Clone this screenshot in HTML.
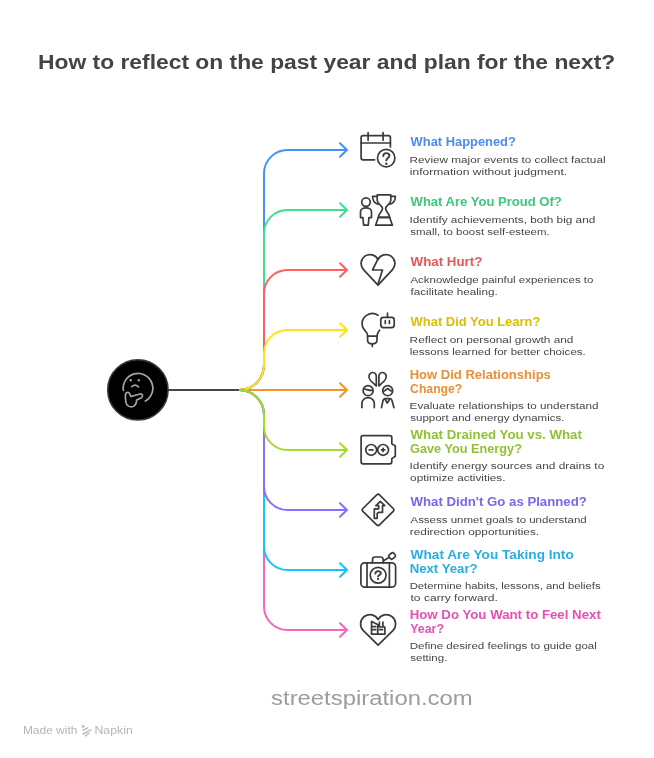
<!DOCTYPE html>
<html><head><meta charset="utf-8"><title>How to reflect on the past year and plan for the next?</title>
<style>
html,body{margin:0;padding:0;background:#fff;}
body{width:654px;height:758px;overflow:hidden;position:relative;font-family:"Liberation Sans", sans-serif;}
svg{position:absolute;left:0;top:0;will-change:transform;}
text{font-family:"Liberation Sans", sans-serif;}
</style></head><body>
<svg width="654" height="758" viewBox="0 0 654 758">
<g fill="none" stroke-width="2" stroke-linecap="round" stroke-linejoin="round">
<path d="M239 390 H347 M340 383.2 L347 390 L340 396.8" stroke="#F9922A"/>
<path d="M239 390 C252.8 390 264 378.8 264 365 V173.5 C264 160.5 274.5 150 287.5 150 H347 M340 143.2 L347 150 L340 156.8" stroke="#4690FA"/>
<path d="M239 390 C252.8 390 264 378.8 264 365 V233.5 C264 220.5 274.5 210 287.5 210 H347 M340 203.2 L347 210 L340 216.8" stroke="#40DE8E"/>
<path d="M239 390 C252.8 390 264 378.8 264 365 V293.5 C264 280.5 274.5 270 287.5 270 H347 M340 263.2 L347 270 L340 276.8" stroke="#FF5F5F"/>
<path d="M239 390 C252.8 390 264 378.8 264 365 V353.5 C264 340.5 274.5 330 287.5 330 H347 M340 323.2 L347 330 L340 336.8" stroke="#FFE31A"/>
<path d="M239 390 C252.8 390 264 401.2 264 415 V606.5 C264 619.5 274.5 630 287.5 630 H347 M340 623.2 L347 630 L340 636.8" stroke="#F765BF"/>
<path d="M239 390 C252.8 390 264 401.2 264 415 V546.5 C264 559.5 274.5 570 287.5 570 H347 M340 563.2 L347 570 L340 576.8" stroke="#12C4FF"/>
<path d="M239 390 C252.8 390 264 401.2 264 415 V486.5 C264 499.5 274.5 510 287.5 510 H347 M340 503.2 L347 510 L340 516.8" stroke="#8A6DFF"/>
<path d="M239 390 C252.8 390 264 401.2 264 415 V426.5 C264 439.5 274.5 450 287.5 450 H347 M340 443.2 L347 450 L340 456.8" stroke="#A2DE28"/>
</g>
<line x1="168" y1="390" x2="239" y2="390" stroke="#474747" stroke-width="2"/>
<circle cx="137.9" cy="389.9" r="30.2" fill="#000" stroke="#3a3a3a" stroke-width="1.5"/>
<g fill="none" stroke="#a5a5a5" stroke-width="1.7" stroke-linecap="round" stroke-linejoin="round">
<path d="M123.4 390.4 A14.8 14.8 0 1 1 145.3 401.1"/>
<path d="M131.8 386.6 Q135 383.6 138.4 386.8"/>
<path d="M127 392.5 C125.4 393 125.2 394.6 125.4 397 L125.8 402 C126.3 406 130 407.5 133 406.5 C135.5 405.6 136.5 403 136.6 400 L141 398 C143.5 396.8 142.8 393.3 140 394 L131 396.5 L129.5 393.6 C129 392.3 128 392.2 127 392.5 Z"/>
</g>
<g fill="#a0a0a0"><circle cx="130.8" cy="380.2" r="1.2"/><circle cx="138.8" cy="380.2" r="1.2"/></g>
<g fill="none" stroke="#3a3a3a" stroke-width="1.7" stroke-linecap="round" stroke-linejoin="round">
<path d="M374.6 159.8 H363.1 a2 2 0 0 1 -2 -2 V137.7 a2 2 0 0 1 2 -2 H388.4 a2 2 0 0 1 2 2 V146.9"/>
<path d="M361.1 143 H390.4 M368.1 132.5 V140.3 M383.1 132.5 V140.3"/>
<circle cx="386.2" cy="158.1" r="8.7"/>
<path d="M383.3 156 C383.3 152.2 389.4 152.2 389.4 155.8 C389.4 157.9 386.3 158 386.3 160.4" stroke-width="1.9"/>
<circle cx="386.3" cy="163.7" r="1.2" fill="#3a3a3a" stroke="none"/>
<circle cx="366" cy="202.1" r="4.3"/>
<path d="M362.9 217.6 H360.5 V211.8 A5.5 4 0 0 1 371.5 211.8 V217.6 H368.9 L368.3 225.2 H363.6 Z"/>
<path d="M377.2 194.9 H390.8 V200.5 C390.5 204.2 385.6 205.5 385.6 208.6 C385.6 211.6 389.3 213 389.6 217.3 H378.4 C378.7 213 382.5 211.6 382.5 208.6 C382.5 205.5 377.5 204.2 377.2 200.5 Z"/>
<path d="M377.2 196.4 H372.6 C372.6 200.3 374.2 202.9 377.9 204.3 M390.8 196.4 H395.4 C395.4 200.3 393.8 202.9 390.1 204.3"/>
<path d="M378.4 217.3 H389.6 L392.4 225.2 H375.6 Z"/>
<path d="M378.00 285.20 L363.48 269.55 A8.9 8.9 0 1 1 378.00 259.60 A8.9 8.9 0 1 1 392.52 269.55 Z"/>
<path d="M377.9 259.2 L372.5 270 H382.5 L378 284"/>
<path d="M378.1 315.2 A10.3 10.3 0 0 0 362.4 326.2 C362.9 328.5 365.5 331.2 367 333.3 C367.4 334 367.6 335 367.6 336.2 V340.5 Q367.6 343.8 372.3 343.8 Q377 343.8 377 340.5 V336.2 C377 334 378 332 379.5 330.2"/>
<path d="M367.6 336.2 H377 M372.3 343.8 V346.5"/>
<rect x="380.8" y="317.3" width="13.4" height="10.3" rx="2.5"/>
<path d="M387.5 313.2 V317.3 M385.3 320.7 V323.5 M389.4 320.7 V323.5"/>
<path d="M376.2 385.9 L370.5 380.5 C368 378 368.5 373 372.5 372.5 C376 372.3 376.3 375.5 376.3 377 V385.9"/>
<path d="M379 385.9 L384.7 380.5 C387.2 378 386.7 373 382.7 372.5 C379.2 372.3 378.9 375.5 378.9 377 V385.9"/>
<circle cx="368.1" cy="390.7" r="5"/>
<path d="M364.3 389 C366.5 389.3 369.5 390.8 372 390.4"/>
<path d="M361.9 407.6 V403.5 A6.2 5.8 0 0 1 374.3 403.5 V407.6"/>
<circle cx="387.7" cy="390.7" r="5"/>
<path d="M383.8 391 C385.5 391.2 386.5 388.6 387.7 388.6 C388.9 388.6 389.9 391.2 391.6 391"/>
<path d="M381.5 407.6 L383 400.5 Q383.5 398.6 385 398.6 H390 Q391.5 398.6 392 400.5 L393.9 407.6 M384.6 398.6 L387.3 403 L390.1 398.6"/>
<path d="M361.1 437.7 a2 2 0 0 1 2 -2 H389.8 a2 2 0 0 1 2 2 V443.8 L395.3 445.9 V456.2 L391.8 458.6 V461.8 a2 2 0 0 1 -2 2 H363.1 a2 2 0 0 1 -2 -2 Z"/>
<circle cx="371.2" cy="449.9" r="5.4"/><circle cx="383.1" cy="449.9" r="5.4"/>
<path d="M369.3 449.9 H372.9 M383.1 448.3 V451.5 M381.5 449.9 H384.7"/>
<path d="M376.7 494.9 a2 2 0 0 1 2.8 0 L393.2 508.5 a2 2 0 0 1 0 2.8 L379.5 524.8 a2 2 0 0 1 -2.8 0 L362.9 511.3 a2 2 0 0 1 0 -2.8 Z"/>
<path d="M374.3 518.3 H377.2 V513.5 L378.7 512.4 H382.5 V505.6 H384.7 L380.3 501.4 L375.9 505.6 H378.7 V508.8 H374.3 Z"/>
<rect x="360.9" y="562.8" width="34.7" height="24.4" rx="4"/>
<path d="M367 562.8 V587.2 M389.4 562.8 V587.2"/>
<path d="M372.5 562.8 V559.5 a2.5 2.5 0 0 1 2.5 -2.5 H380.7 a2.5 2.5 0 0 1 2.5 2.5 V562.8"/>
<path d="M383.6 560.7 L388.5 557.7"/>
<rect x="-3" y="-2.6" width="6" height="5.2" rx="1.6" transform="translate(392.1 555.9) rotate(-38)"/>
<circle cx="378.1" cy="575.2" r="7.9"/>
<path d="M375.4 573.6 C375.4 570.3 380.9 570.3 380.9 573.4 C380.9 575 378.1 575 378.1 576.5" stroke-width="1.9"/>
<circle cx="378.1" cy="579.1" r="1.15" fill="#3a3a3a" stroke="none"/>
<path d="M378.10 645.20 L363.36 630.59 A9.3 9.3 0 1 1 378.10 619.60 A9.3 9.3 0 1 1 392.84 630.59 Z"/>
<path d="M371.5 621.4 L377.7 624.5 V634.2 M371.5 621.4 V634.2 H384.9 V627 H379.4 V622 M382.9 622 V627 M372.3 626.6 H375.6 M372.3 629.7 H375.6 M379.6 629.7 H382.5"/>
</g>
<text x="38.02" y="68.7" font-size="20" font-weight="bold" fill="#444444" textLength="577.27" lengthAdjust="spacingAndGlyphs">How to reflect on the past year and plan for the next?</text>
<text x="410.60" y="145.9" font-size="12.8" font-weight="bold" fill="#4D8CEE" textLength="105.24" lengthAdjust="spacingAndGlyphs">What Happened?</text>
<text x="409.63" y="162.6" font-size="9.7" font-weight="normal" fill="#454545" textLength="195.88" lengthAdjust="spacingAndGlyphs">Review major events to collect factual</text>
<text x="409.86" y="174.6" font-size="9.7" font-weight="normal" fill="#454545" textLength="157.27" lengthAdjust="spacingAndGlyphs">information without judgment.</text>
<text x="410.60" y="205.9" font-size="12.8" font-weight="bold" fill="#3CC97C" textLength="151.20" lengthAdjust="spacingAndGlyphs">What Are You Proud Of?</text>
<text x="409.50" y="222.6" font-size="9.7" font-weight="normal" fill="#454545" textLength="185.83" lengthAdjust="spacingAndGlyphs">Identify achievements, both big and</text>
<text x="410.25" y="234.6" font-size="9.7" font-weight="normal" fill="#454545" textLength="139.47" lengthAdjust="spacingAndGlyphs">small, to boost self-esteem.</text>
<text x="410.60" y="265.9" font-size="12.8" font-weight="bold" fill="#EA5555" textLength="71.69" lengthAdjust="spacingAndGlyphs">What Hurt?</text>
<text x="410.48" y="282.6" font-size="9.7" font-weight="normal" fill="#454545" textLength="182.94" lengthAdjust="spacingAndGlyphs">Acknowledge painful experiences to</text>
<text x="410.48" y="294.6" font-size="9.7" font-weight="normal" fill="#454545" textLength="87.26" lengthAdjust="spacingAndGlyphs">facilitate healing.</text>
<text x="410.60" y="325.9" font-size="12.8" font-weight="bold" fill="#D9C000" textLength="129.75" lengthAdjust="spacingAndGlyphs">What Did You Learn?</text>
<text x="409.62" y="342.6" font-size="9.7" font-weight="normal" fill="#454545" textLength="163.79" lengthAdjust="spacingAndGlyphs">Reflect on personal growth and</text>
<text x="409.77" y="354.6" font-size="9.7" font-weight="normal" fill="#454545" textLength="176.03" lengthAdjust="spacingAndGlyphs">lessons learned for better choices.</text>
<text x="409.68" y="378.8" font-size="12.8" font-weight="bold" fill="#EA8E38" textLength="141.20" lengthAdjust="spacingAndGlyphs">How Did Relationships</text>
<text x="410.12" y="392.5" font-size="12.8" font-weight="bold" fill="#EA8E38" textLength="52.20" lengthAdjust="spacingAndGlyphs">Change?</text>
<text x="409.64" y="408.9" font-size="9.7" font-weight="normal" fill="#454545" textLength="188.81" lengthAdjust="spacingAndGlyphs">Evaluate relationships to understand</text>
<text x="410.24" y="421.0" font-size="9.7" font-weight="normal" fill="#454545" textLength="154.16" lengthAdjust="spacingAndGlyphs">support and energy dynamics.</text>
<text x="410.60" y="438.8" font-size="12.8" font-weight="bold" fill="#90C235" textLength="171.34" lengthAdjust="spacingAndGlyphs">What Drained You vs. What</text>
<text x="410.10" y="452.5" font-size="12.8" font-weight="bold" fill="#90C235" textLength="111.82" lengthAdjust="spacingAndGlyphs">Gave You Energy?</text>
<text x="409.50" y="468.9" font-size="9.7" font-weight="normal" fill="#454545" textLength="194.75" lengthAdjust="spacingAndGlyphs">Identify energy sources and drains to</text>
<text x="410.12" y="481.0" font-size="9.7" font-weight="normal" fill="#454545" textLength="95.38" lengthAdjust="spacingAndGlyphs">optimize activities.</text>
<text x="410.60" y="505.9" font-size="12.8" font-weight="bold" fill="#7D63EE" textLength="176.19" lengthAdjust="spacingAndGlyphs">What Didn&#39;t Go as Planned?</text>
<text x="410.48" y="522.6" font-size="9.7" font-weight="normal" fill="#454545" textLength="176.25" lengthAdjust="spacingAndGlyphs">Assess unmet goals to understand</text>
<text x="409.87" y="534.6" font-size="9.7" font-weight="normal" fill="#454545" textLength="129.25" lengthAdjust="spacingAndGlyphs">redirection opportunities.</text>
<text x="410.60" y="558.8" font-size="12.8" font-weight="bold" fill="#28AEE3" textLength="163.16" lengthAdjust="spacingAndGlyphs">What Are You Taking Into</text>
<text x="409.67" y="572.5" font-size="12.8" font-weight="bold" fill="#28AEE3" textLength="67.99" lengthAdjust="spacingAndGlyphs">Next Year?</text>
<text x="409.67" y="588.9" font-size="9.7" font-weight="normal" fill="#454545" textLength="190.91" lengthAdjust="spacingAndGlyphs">Determine habits, lessons, and beliefs</text>
<text x="410.48" y="601.0" font-size="9.7" font-weight="normal" fill="#454545" textLength="87.31" lengthAdjust="spacingAndGlyphs">to carry forward.</text>
<text x="409.67" y="618.8" font-size="12.8" font-weight="bold" fill="#E650B2" textLength="191.19" lengthAdjust="spacingAndGlyphs">How Do You Want to Feel Next</text>
<text x="410.31" y="632.5" font-size="12.8" font-weight="bold" fill="#E650B2" textLength="33.63" lengthAdjust="spacingAndGlyphs">Year?</text>
<text x="409.65" y="648.9" font-size="9.7" font-weight="normal" fill="#454545" textLength="187.20" lengthAdjust="spacingAndGlyphs">Define desired feelings to guide goal</text>
<text x="410.24" y="661.0" font-size="9.7" font-weight="normal" fill="#454545" textLength="37.09" lengthAdjust="spacingAndGlyphs">setting.</text>
<text x="271.07" y="705.2" font-size="19.5" font-weight="normal" fill="#9c9c9c" textLength="201.64" lengthAdjust="spacingAndGlyphs">streetspiration.com</text>
<text x="22.92" y="734.3" font-size="11" font-weight="normal" fill="#b5b5b5" textLength="54.48" lengthAdjust="spacingAndGlyphs">Made with</text>
<text x="94.50" y="734.3" font-size="11" font-weight="normal" fill="#b5b5b5" textLength="38.23" lengthAdjust="spacingAndGlyphs">Napkin</text>
<g fill="#bdbdbd" stroke="#bdbdbd" stroke-width="1.5" stroke-linecap="round" stroke-linejoin="round">
<path d="M82.7 725.3 L84.8 726.4 L82.9 727.5 Z" stroke-width="1"/>
<path d="M83 730.2 L87.8 727.9 M83 734 L90.8 729.8 M85.4 736 L88.8 733.3" fill="none"/>
</g>
</svg>
</body></html>
